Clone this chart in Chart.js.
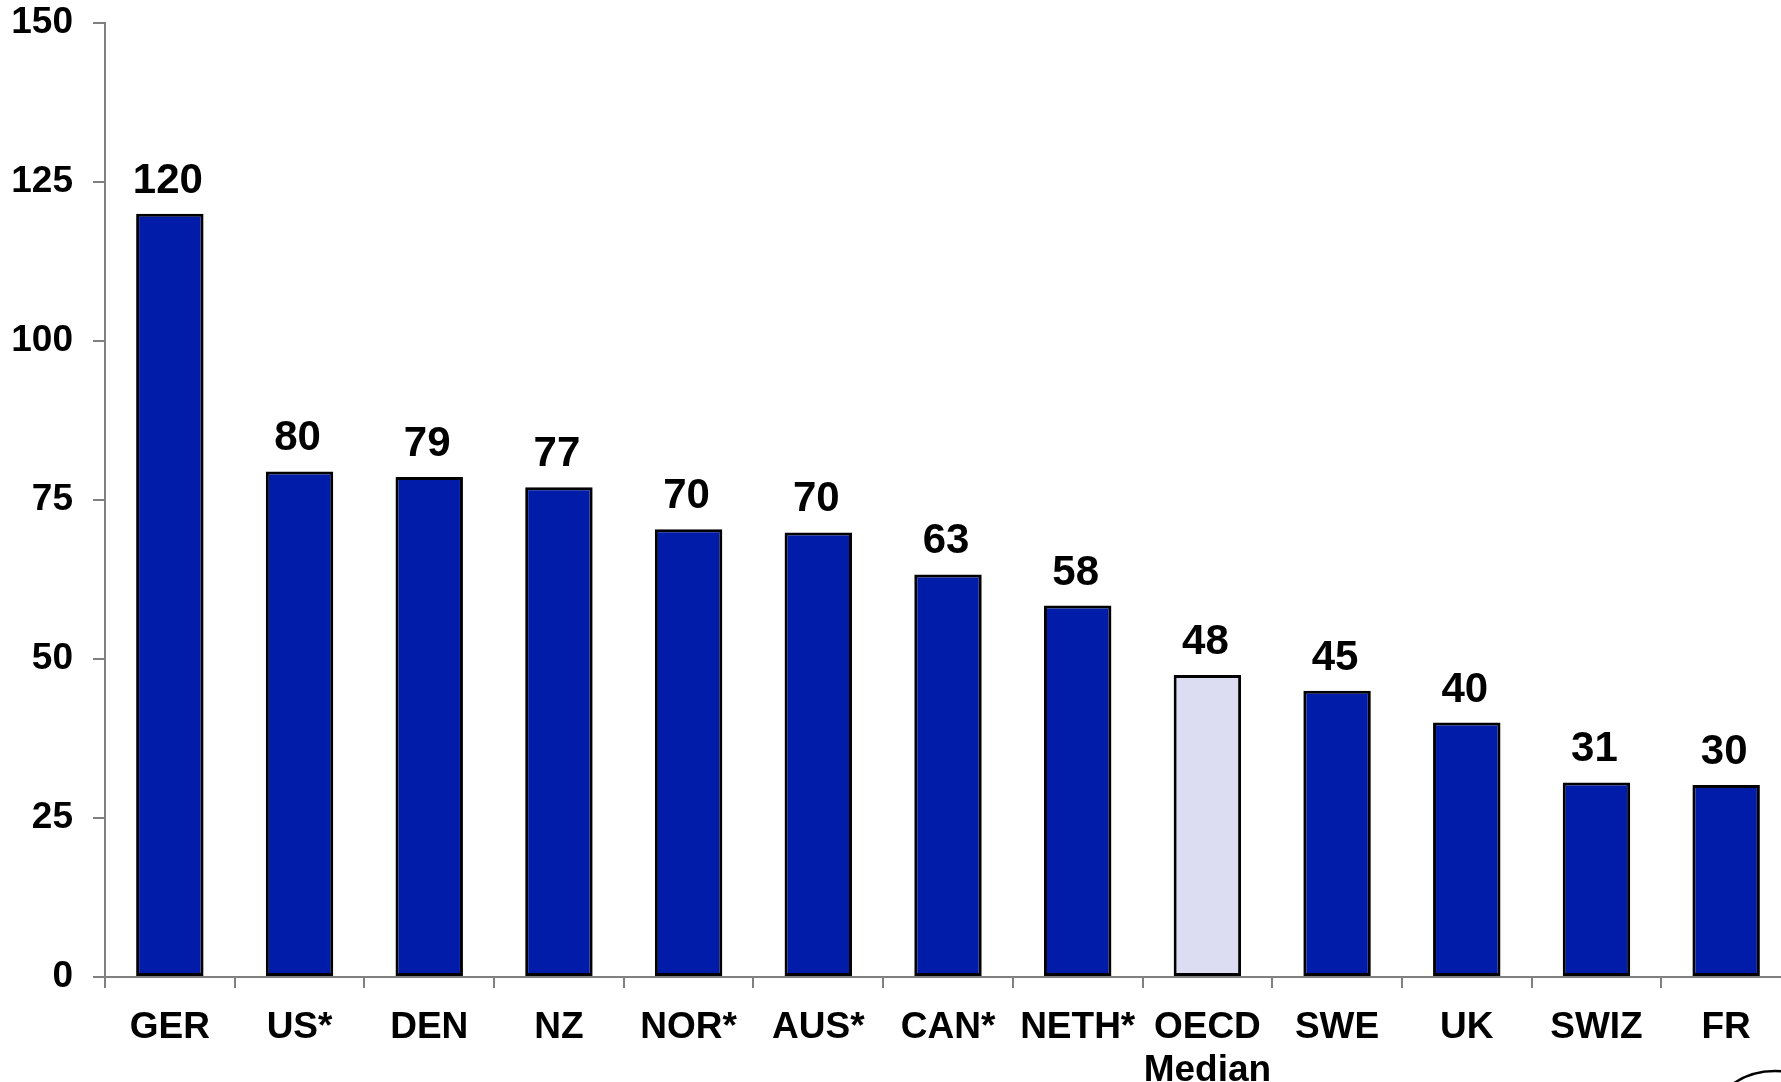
<!DOCTYPE html>
<html>
<head>
<meta charset="utf-8">
<script src="https://cdn.jsdelivr.net/npm/chart.js@4"></script>
<style>
html,body{margin:0;padding:0;background:#fff;overflow:hidden;}
#wrap{width:1800px;height:1082px;position:relative;}
</style>
</head>
<body>
<div id="wrap"><canvas id="c" width="1800" height="1082"></canvas></div>
<script>
const categories = ['GER','US*','DEN','NZ','NOR*','AUS*','CAN*','NETH*',['OECD','Median'],'SWE','UK','SWIZ','FR'];
const values = [120, 79.5, 78.6, 77.0, 70.4, 69.9, 63.3, 58.4, 47.5, 45.0, 40.0, 30.6, 30.2];
const highlightIndex = 8;
const yTicks = [0, 25, 50, 75, 100, 125, 150];

const barColors = values.map((v, i) => i === highlightIndex ? '#DCDCF2' : '#001CA8');

const labelPlugin = {
  id: 'valueLabels',
  afterDatasetsDraw(chart) {
    const ctx = chart.ctx;
    const meta = chart.getDatasetMeta(0);
    ctx.save();
    ctx.font = 'bold 42px "Liberation Sans", Arial, sans-serif';
    ctx.fillStyle = '#000';
    ctx.textAlign = 'center';
    ctx.textBaseline = 'alphabetic';
    meta.data.forEach((bar, i) => {
      ctx.fillText(String(Math.round(values[i])), bar.x - 2, bar.y - 21);
    });
    ctx.restore();
  },
  afterDraw(chart) {
    const ctx = chart.ctx;
    ctx.save();
    ctx.strokeStyle = '#000';
    ctx.lineWidth = 2.5;
    ctx.beginPath();
    ctx.ellipse(1775, 1120, 62, 49, 0, Math.PI, 2 * Math.PI);
    ctx.stroke();
    ctx.restore();
  }
};

new Chart(document.getElementById('c'), {
  type: 'bar',
  data: {
    labels: categories,
    datasets: [{
      data: values,
      backgroundColor: barColors,
      borderColor: '#000',
      borderWidth: 3,
      borderSkipped: false,
      categoryPercentage: 1.0,
      barPercentage: 0.52
    }]
  },
  options: {
    responsive: false,
    animation: false,
    devicePixelRatio: 1,
    layout: { padding: { top: 23, right: 9, left: 0, bottom: 0 } },
    plugins: { legend: { display: false }, tooltip: { enabled: false } },
    scales: {
      y: {
        min: 0, max: 150,
        afterFit(scale) { scale.width = 105; scale.paddingTop = 0; scale.paddingBottom = 0; },
        afterBuildTicks(scale) { scale.ticks = yTicks.map(v => ({ value: v })); },
        border: { color: '#808080', width: 2 },
        grid: { drawOnChartArea: false, drawTicks: true, tickLength: 12, color: '#808080', lineWidth: 2 },
        ticks: {
          color: '#000',
          padding: 20,
          font: { family: '"Liberation Sans", Arial, sans-serif', size: 37, weight: 'bold' }
        }
      },
      x: {
        afterFit(scale) { scale.height = 105; scale.paddingLeft = 0; scale.paddingRight = 0; },
        border: { color: '#808080', width: 2 },
        grid: { drawOnChartArea: false, drawTicks: true, tickLength: 11, color: '#808080', lineWidth: 2, offset: true },
        ticks: {
          color: '#000',
          padding: 18,
          maxRotation: 0,
          autoSkip: false,
          font: { family: '"Liberation Sans", Arial, sans-serif', size: 37, weight: 'bold', lineHeight: 1.17 }
        }
      }
    }
  },
  plugins: [labelPlugin]
});
</script>
</body>
</html>
